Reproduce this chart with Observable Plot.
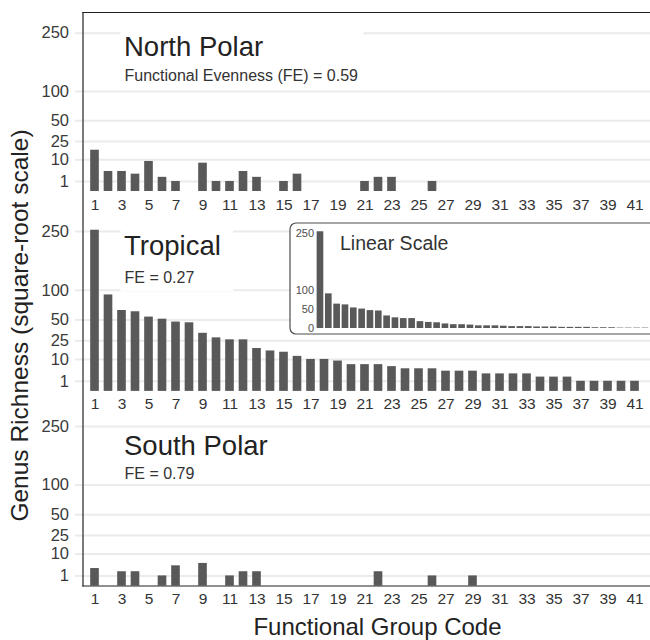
<!DOCTYPE html>
<html><head><meta charset="utf-8">
<script src="https://cdn.jsdelivr.net/npm/d3@7"></script>
<script src="https://cdn.jsdelivr.net/npm/@observablehq/plot@0.6"></script>
<style>
body{margin:0;background:#fff;}
#wrap{position:relative;width:650px;height:640px;overflow:hidden;background:#fff;}
#wrap svg{position:absolute;left:0;top:0;background:transparent;}
</style></head><body><div id="wrap"></div>
<script>
const FONT = '"Liberation Sans", Arial, sans-serif';

// Functional group codes
const codes = [1,2,3,4,5,6,7,8,9,10,11,12,13,14,15,16,17,18,19,20,21,22,23,24,25,26,27,28,29,30,31,32,33,34,35,36,37,38,39,40,41];
const codeTickLabels = [1,3,5,7,9,11,13,15,17,19,21,23,25,27,29,31,33,35,37,39,41];
const sqrtTicks = [1,10,25,50,100,250];
const linearTicks = [0,50,100,250];

// Genus richness per functional group
const northPolar = [17,4,4,3,9,2,1,0,8,1,1,4,2,0,1,3,0,0,0,0,1,2,2,0,0,1,0,0,0,0,0,0,0,0,0,0,0,0,0,0,0];
const tropical   = [254,91,64,62,54,51,47,46,33,28,26,26,18,16,15,12,10,10,9,7,7,7,6,5,5,5,4,4,4,3,3,3,3,2,2,2,1,1,1,1,1];
const southPolar = [3,0,2,2,0,1,4,0,5,0,1,2,2,0,0,0,0,0,0,0,0,2,0,0,0,1,0,0,1,0,0,0,0,0,0,0,0,0,0,0,0];

const regionTitles = ["North Polar","Tropical","South Polar"];
const regionSubtitles = ["Functional Evenness (FE) = 0.59","FE = 0.27","FE = 0.79"];
const insetTitle = "Linear Scale";
const xTitle = "Functional Group Code";
const yTitle = "Genus Richness (square-root scale)";

const BAR = "#595959";
const GRID = "#ebebeb";
const AXIS = "#222";

const wrap = document.getElementById("wrap");

function panel(values, cfg) {
  const data = codes.map((c, i) => ({code: c, value: values[i]}));
  const marks = [
    Plot.gridY(sqrtTicks, {stroke: GRID, strokeOpacity: 1, strokeWidth: 2}),
    Plot.axisY(sqrtTicks, {anchor: "left", tickSize: 7.5, tickPadding: 6.5, stroke: GRID, strokeOpacity: 1, strokeWidth: 2, fill: "#3a3a3a", fontSize: 16.5, label: null})
  ];
  if (cfg.box) marks.push(Plot.frame({fill: "white", stroke: "none", ...cfg.box}));
  marks.push(
    Plot.rectY(data, {x: "code", y: "value", fill: BAR}),
    Plot.axisX(codeTickLabels, {tickSize: 0, tickPadding: 7, fontSize: 15.5, fill: "#333", label: null}),
    Plot.text([cfg.title], {text: d => d, frameAnchor: "top-left", dx: 41, dy: cfg.titleDy, textAnchor: "start", lineAnchor: "bottom", fontSize: 27.5, fill: "#222"}),
    Plot.text([cfg.subtitle], {text: d => d, frameAnchor: "top-left", dx: 41.5, dy: cfg.subDy, textAnchor: "start", lineAnchor: "bottom", fontSize: 16, fill: "#333"})
  );
  if (cfg.extra) marks.push(...cfg.extra);
  return Plot.plot({
    width: 650, height: 640,
    marginLeft: 82.5, marginRight: 0, marginTop: 12, marginBottom: 640 - cfg.zero,
    style: {background: "transparent", overflow: "visible", fontFamily: FONT},
    x: {type: "band", domain: codes, range: [87.75, 641.25], paddingInner: 0.36, paddingOuter: 0.18, round: false, axis: null},
    y: {type: "sqrt", domain: [0, 250], range: [cfg.zero, cfg.y250], axis: null},
    marks
  });
}

// North Polar
wrap.appendChild(panel(northPolar, {
  zero: 191, y250: 32.7, title: regionTitles[0], subtitle: regionSubtitles[0], titleDy: 43, subDy: 68,
  box: {insetLeft: 37.5, insetRight: 287, insetTop: 14, insetBottom: 103},
  extra: [Plot.frame({anchor: "top", stroke: AXIS, strokeWidth: 1.2})]
}));

// Tropical
wrap.appendChild(panel(tropical, {
  zero: 390.9, y250: 231, title: regionTitles[1], subtitle: regionSubtitles[1], titleDy: 242.3, subDy: 270.3,
  box: {insetLeft: 37.5, insetRight: 417.3, insetTop: 213, insetBottom: 100.4}
}));

// South Polar (+ axis lines and titles)
wrap.appendChild(panel(southPolar, {
  zero: 585.5, y250: 426, title: regionTitles[2], subtitle: regionSubtitles[2], titleDy: 442.3, subDy: 466.3,
  extra: [
    Plot.frame({anchor: "left", stroke: AXIS, strokeWidth: 1.2}),
    Plot.frame({anchor: "bottom", stroke: AXIS, strokeWidth: 1.2}),
    Plot.text([xTitle], {text: d => d, frameAnchor: "bottom-left", dx: 294.5, dy: 48.5, textAnchor: "middle", lineAnchor: "bottom", fontSize: 24, fill: "#222"}),
    Plot.text([yTitle], {text: d => d, frameAnchor: "left", dx: -55.5, dy: 26.25, rotate: -90, textAnchor: "middle", lineAnchor: "bottom", fontSize: 24.5, fill: "#222"})
  ]
}));

// Inset: tropical on a linear scale
const insetData = codes.map((c, i) => ({code: c, value: tropical[i]}));
const inset = Plot.plot({
  width: 390, height: 112,
  marginLeft: 0.5, marginRight: 0.5, marginTop: 0.5, marginBottom: 0.5,
  style: {background: "transparent", overflow: "visible", fontFamily: FONT},
  x: {type: "band", domain: codes, range: [26.8, 368.4], paddingInner: 0.2, paddingOuter: 0.1, round: false, axis: null},
  y: {type: "linear", domain: [0, 250], range: [106, 10.8], axis: null},
  marks: [
    Plot.frame({fill: "white", stroke: "#4d4d4d", strokeWidth: 1.2, rx: 6}),
    Plot.rectY(insetData, {x: "code", y: "value", fill: BAR}),
    Plot.axisY(linearTicks, {anchor: "left", tickSize: 0, tickPadding: -24, fontSize: 11, fill: "#4d4d4d", label: null}),
    Plot.text([insetTitle], {text: d => d, frameAnchor: "top-left", dx: 50, dy: 27, textAnchor: "start", lineAnchor: "bottom", fontSize: 19.5, fill: "#333"})
  ]
});
inset.style.left = "289px";
inset.style.top = "221.5px";
wrap.appendChild(inset);
</script>
</body></html>
